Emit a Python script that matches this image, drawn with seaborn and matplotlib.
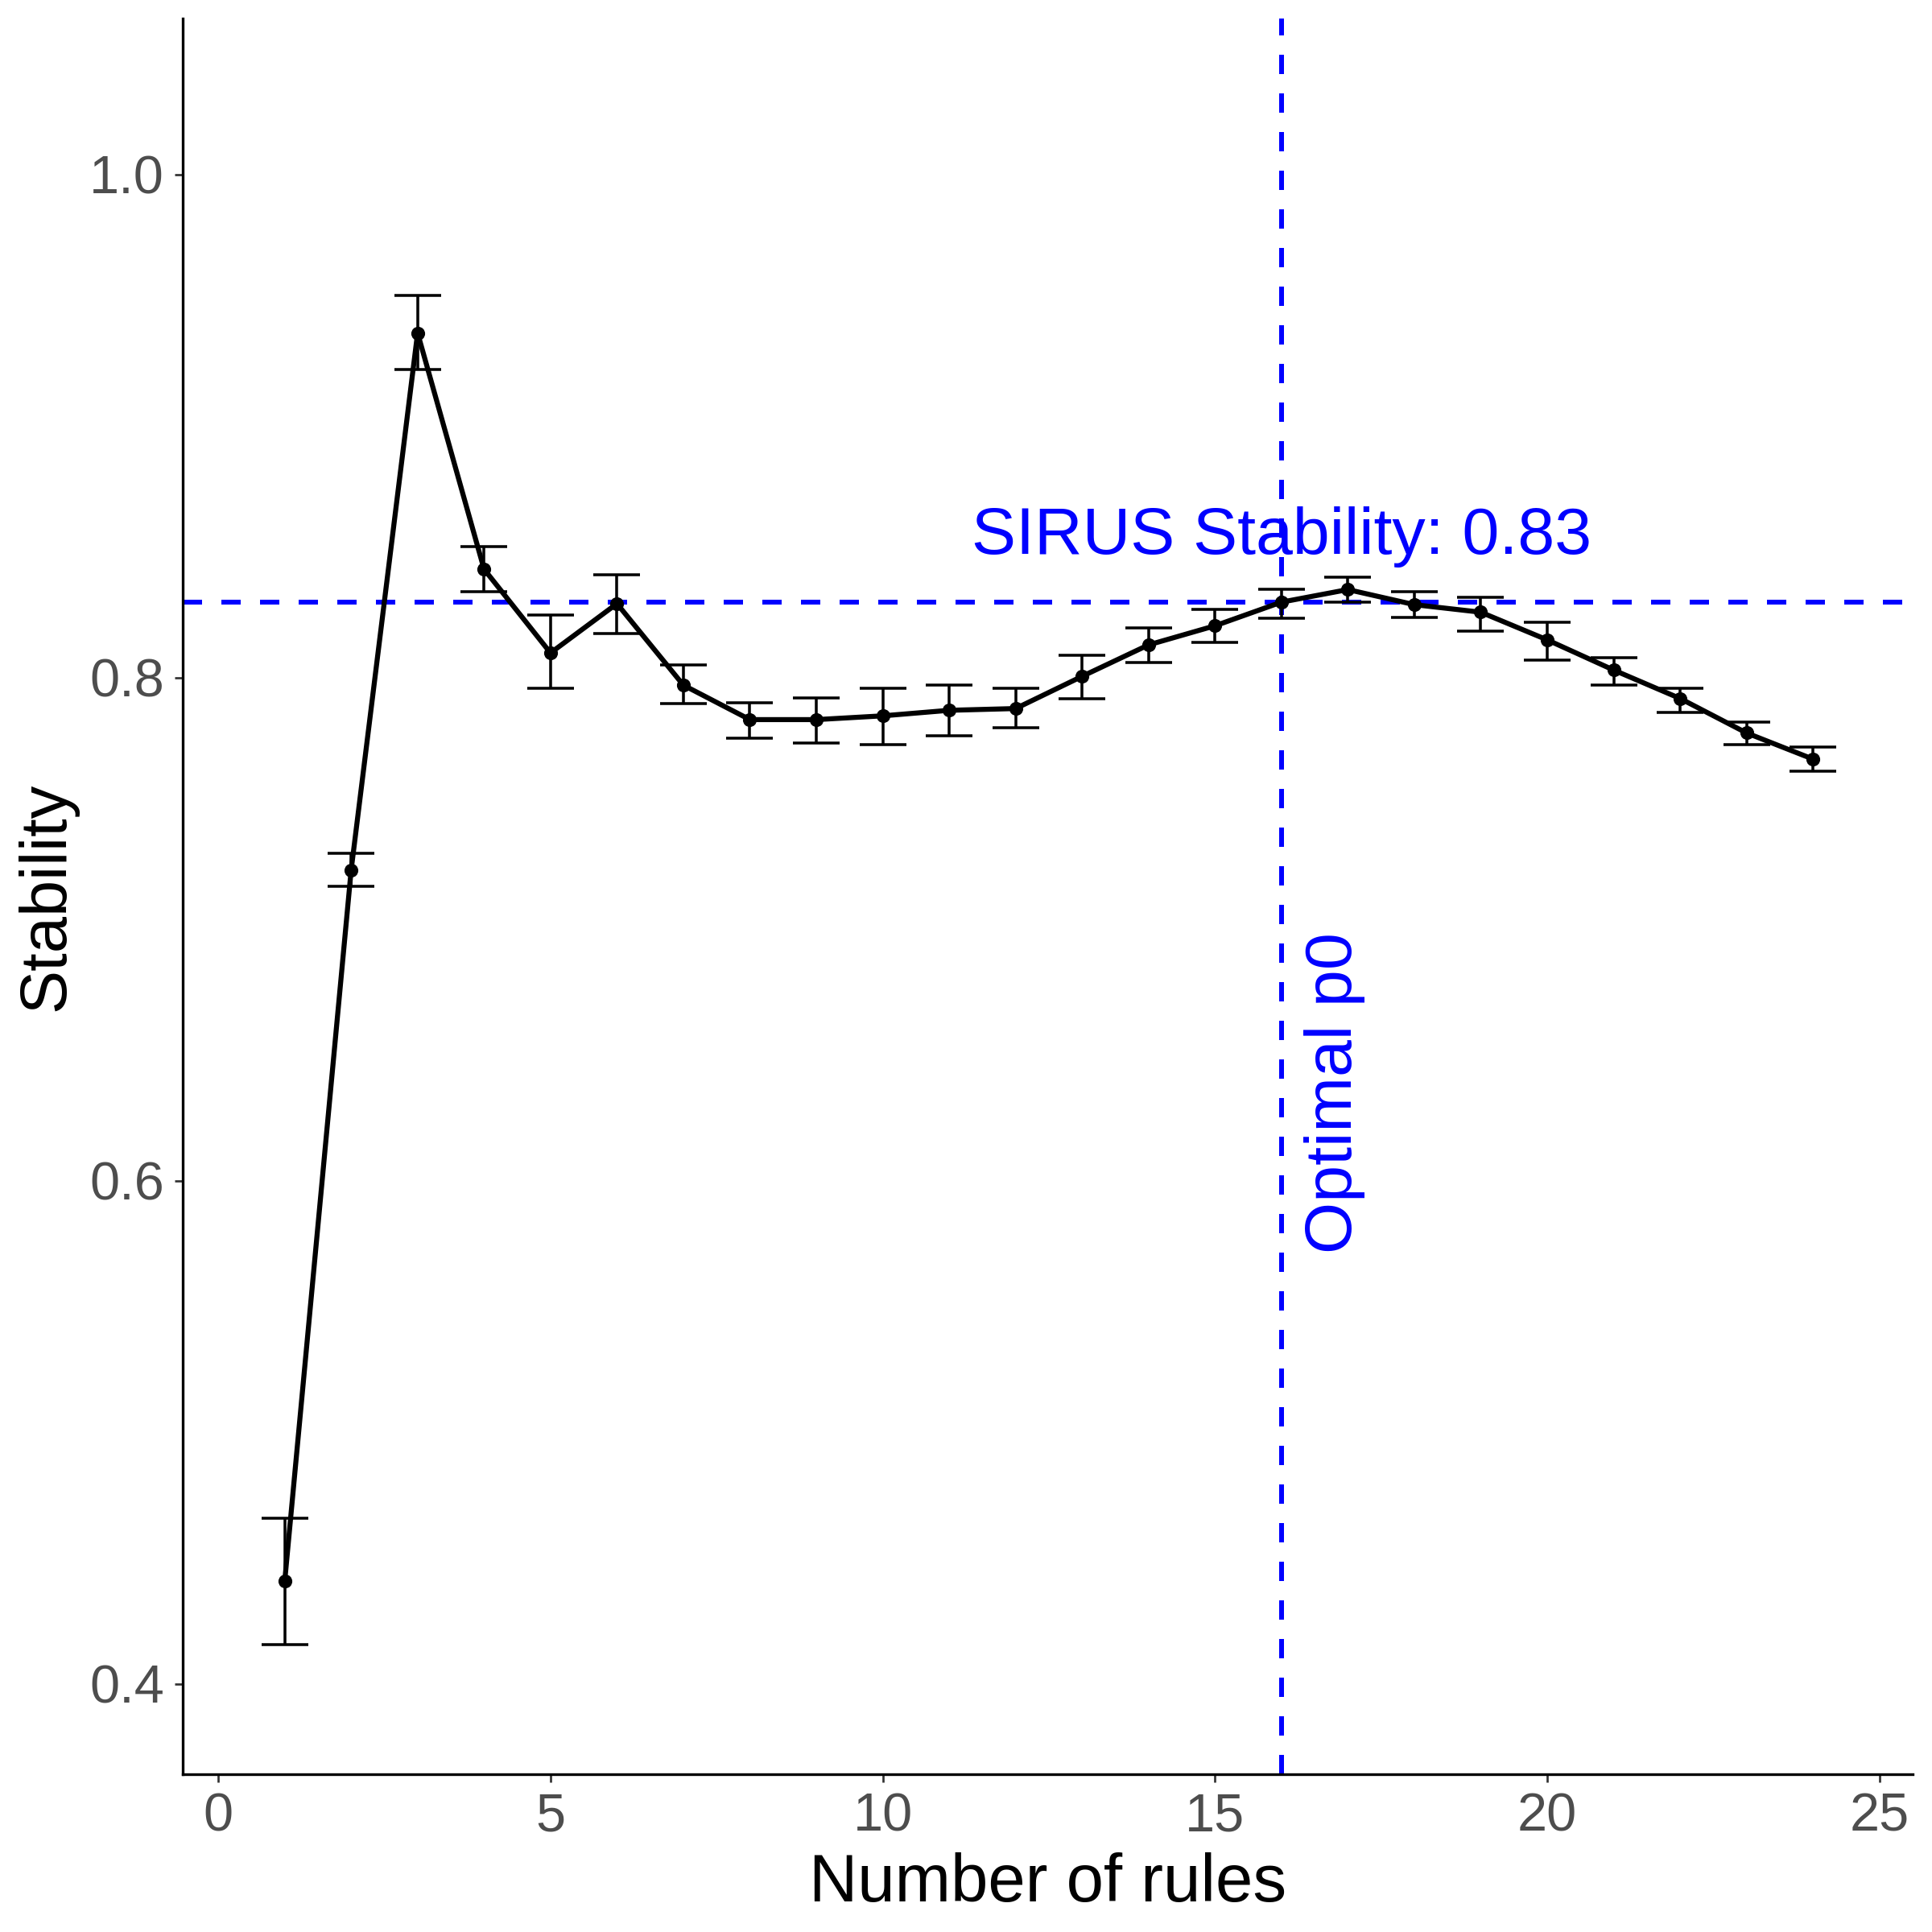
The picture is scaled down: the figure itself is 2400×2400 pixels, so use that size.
import matplotlib
matplotlib.use("Agg")
import matplotlib.pyplot as plt
import seaborn as sns
import pandas as pd
import numpy as np

n_rules = [1, 2, 3, 4, 5, 6, 7, 8, 9, 10, 11, 12, 13, 14, 15, 16, 17, 18, 19, 20, 21, 22, 23, 24]
stability = [0.4407, 0.7235, 0.937, 0.8431, 0.8098, 0.8294, 0.797, 0.7833, 0.7833, 0.7848,
             0.787, 0.7877, 0.8005, 0.813, 0.8206, 0.830, 0.835, 0.829, 0.826, 0.815,
             0.803, 0.7917, 0.778, 0.7676]
err_upper = [0.4657, 0.730, 0.952, 0.852, 0.825, 0.841, 0.805, 0.790, 0.792, 0.7956,
             0.797, 0.7956, 0.809, 0.8196, 0.827, 0.835, 0.840, 0.834, 0.832, 0.822,
             0.808, 0.7956, 0.7823, 0.7725]
err_lower = [0.4157, 0.717, 0.9225, 0.834, 0.7956, 0.8176, 0.7897, 0.776, 0.774, 0.7735,
             0.777, 0.780, 0.7917, 0.806, 0.814, 0.8235, 0.830, 0.824, 0.8186, 0.807,
             0.797, 0.786, 0.7735, 0.7627]
optimal_p0 = 16
sirus_stability = 0.83

df = pd.DataFrame({"rules": n_rules, "stability": stability,
                   "lo": err_lower, "hi": err_upper})

sns.set_theme(style="white")
plt.rcParams['font.family'] = ['Liberation Sans', 'DejaVu Sans']

fig = plt.figure(figsize=(8, 8), dpi=300)
ax = fig.add_axes([0.0944, 0.0816, 0.8956, 0.9088])

yerr = np.vstack([df["stability"] - df["lo"], df["hi"] - df["stability"]])
ax.errorbar(df["rules"], df["stability"], yerr=yerr, fmt="none",
            ecolor="black", elinewidth=0.85, capsize=7, capthick=0.85, zorder=2)
sns.lineplot(data=df, x="rules", y="stability", color="black", linewidth=1.5,
             ax=ax, zorder=3)
sns.scatterplot(data=df, x="rules", y="stability", color="black", s=17,
                edgecolor="black", linewidth=0, ax=ax, zorder=4)

ax.axhline(sirus_stability, color="blue", linestyle=(0, (4, 4)), linewidth=1.44, zorder=1)
ax.axvline(optimal_p0, color="blue", linestyle=(0, (4, 4)), linewidth=1.44, zorder=1)

ax.text(optimal_p0, 0.856, f"SIRUS Stability: {sirus_stability:.2f}", color="blue",
        fontsize=19.8, ha="center", va="center")
ax.text(optimal_p0 + 0.8, 0.635, "Optimal p0", color="blue", fontsize=19.8,
        rotation=90, ha="center", va="center")

ax.set_xlim(-0.54, 25.5)
ax.set_ylim(0.364, 1.062)
ax.set_xticks([0, 5, 10, 15, 20, 25])
ax.set_yticks([0.4, 0.6, 0.8, 1.0])
ax.set_yticklabels(["0.4", "0.6", "0.8", "1.0"])
ax.set_xlabel("Number of rules", fontsize=20, color="black", labelpad=3)
ax.set_ylabel("Stability", fontsize=19.5, color="black", labelpad=3.5)

ax.tick_params(axis="both", which="major", length=2.4, width=0.65, color="#333333",
               labelsize=16, labelcolor="#4D4D4D", pad=3, bottom=True, left=True)
for side in ["top", "right"]:
    ax.spines[side].set_visible(False)
for side in ["left", "bottom"]:
    ax.spines[side].set_color("black")
    ax.spines[side].set_linewidth(0.8)

fig.savefig("out.png", dpi=300, facecolor="white")
